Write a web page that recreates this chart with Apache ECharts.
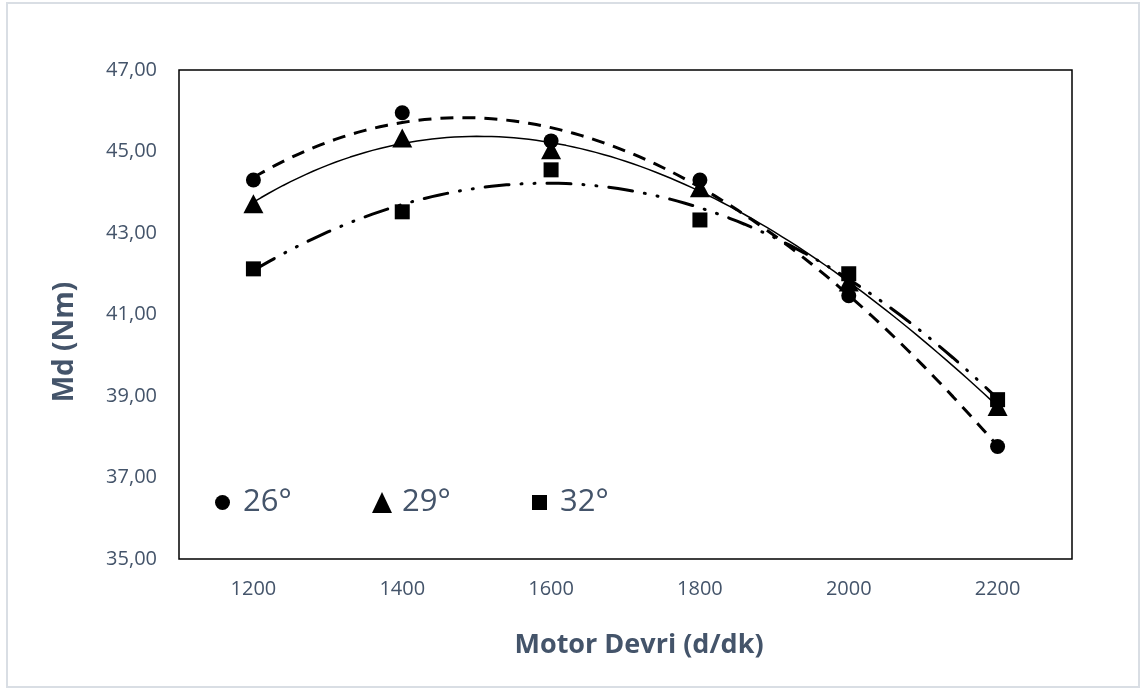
<!DOCTYPE html>
<html>
<head>
<meta charset="utf-8">
<script src="https://cdn.jsdelivr.net/npm/echarts@6/dist/echarts.min.js"></script>
<style>
  html, body { margin: 0; padding: 0; background: #fff; }
  #chart { width: 1146px; height: 690px; }
</style>
</head>
<body>
<div id="chart"></div>
<script>
// Engine speed (d/dk) and torque Md (Nm) at three ignition advance angles
const speeds = [1200, 1400, 1600, 1800, 2000, 2200];
const speedLabels = ['1200', '1400', '1600', '1800', '2000', '2200'];
const md26 = [44.30, 45.95, 45.26, 44.30, 41.46, 37.76];
const md29 = [43.72, 45.33, 45.04, 44.11, 41.80, 38.74];
const md32 = [42.12, 43.52, 44.55, 43.32, 42.00, 38.91];
const seriesNames = ['26°', '29°', '32°'];
const yTicks = [35, 37, 39, 41, 43, 45, 47];

const TEXT = '#44546A';
const FONT = '"Open Sans", "Noto Sans", sans-serif';

// Least-squares polynomial trend line of the given order
function polyFit(xs, ys, order) {
  const c = 1700, s = 100, n = order + 1;
  const t = xs.map(x => (x - c) / s);
  const A = [];
  for (let i = 0; i < n; i++) {
    A.push([]);
    for (let j = 0; j < n; j++) A[i].push(t.reduce((a, v) => a + Math.pow(v, i + j), 0));
    A[i].push(t.reduce((a, v, k) => a + Math.pow(v, i) * ys[k], 0));
  }
  for (let i = 0; i < n; i++) {
    for (let j = i + 1; j < n; j++) {
      const f = A[j][i] / A[i][i];
      for (let k = i; k <= n; k++) A[j][k] -= f * A[i][k];
    }
  }
  const b = new Array(n).fill(0);
  for (let i = n - 1; i >= 0; i--) {
    let v = A[i][n];
    for (let k = i + 1; k < n; k++) v -= A[i][k] * b[k];
    b[i] = v / A[i][i];
  }
  return x => { const u = (x - c) / s; return b.reduce((a, bk, k) => a + bk * Math.pow(u, k), 0); };
}
function trend(ys) {
  const f = polyFit(speeds, ys, 3);
  const pts = [];
  for (let x = speeds[0]; x <= speeds[speeds.length - 1]; x += 10) pts.push([x, f(x)]);
  return pts;
}

const chart = echarts.init(document.getElementById('chart'), null, { renderer: 'canvas' });

const markerStyle = { color: '#000', opacity: 1 };
function legendAt(left, name, icon, w, h, pad) {
  return {
    left: left, top: 482, itemWidth: w, itemHeight: h, itemGap: 0, selectedMode: false,
    data: [{ name: name, icon: icon, itemStyle: { color: '#000', opacity: 1 } }],
    textStyle: { color: TEXT, fontSize: 31, fontFamily: FONT, padding: [0, 0, 0, pad] }
  };
}

chart.setOption({
  animation: false,
  backgroundColor: '#fff',
  graphic: [
    { type: 'rect', shape: { x: 7, y: 3, width: 1132, height: 684 },
      style: { fill: 'none', stroke: '#D9DEE4', lineWidth: 2 }, silent: true },
    { type: 'text', position: [639, 645],
      style: { text: 'Motor Devri (d/dk)', fill: TEXT, font: 'bold 27px ' + FONT,
               textAlign: 'center', textVerticalAlign: 'middle' } },
    { type: 'text', rotation: Math.PI / 2, position: [65, 342],
      style: { text: 'Md (Nm)', fill: TEXT, font: 'bold 28px ' + FONT,
               textAlign: 'center', textVerticalAlign: 'middle' } }
  ],
  legend: [
    legendAt(210, seriesNames[0], 'circle', 15, 15, 8),
    legendAt(367, seriesNames[1], 'triangle', 20, 21, 5),
    legendAt(527, seriesNames[2], 'rect', 15, 15, 8)
  ],
  grid: { left: 179, right: 74, top: 70, bottom: 131, show: true,
          borderColor: '#000', borderWidth: 1.5, backgroundColor: 'transparent' },
  xAxis: [
    { type: 'category', data: speedLabels, boundaryGap: true,
      axisLine: { show: false }, axisTick: { show: false },
      axisLabel: { color: TEXT, fontSize: 20, fontFamily: FONT, margin: 20 },
      splitLine: { show: false } },
    { type: 'value', min: 1100, max: 2300, show: false, position: 'bottom' }
  ],
  yAxis: {
    type: 'value', min: yTicks[0], max: yTicks[yTicks.length - 1], interval: 2,
    axisLine: { show: false }, axisTick: { show: false }, splitLine: { show: false },
    axisLabel: { color: TEXT, fontSize: 20, fontFamily: FONT, margin: 22,
                 formatter: v => v.toFixed(2).replace('.', ',') }
  },
  series: [
    { name: seriesNames[0] + ' trend', type: 'line', xAxisIndex: 1, data: trend(md26),
      showSymbol: false, silent: true, z: 2,
      lineStyle: { color: '#000', width: 3, type: [13, 9] } },
    { name: seriesNames[1] + ' trend', type: 'line', xAxisIndex: 1, data: trend(md29),
      showSymbol: false, silent: true, z: 2,
      lineStyle: { color: '#000', width: 1.5 } },
    { name: seriesNames[2] + ' trend', type: 'line', xAxisIndex: 1, data: trend(md32),
      showSymbol: false, silent: true, z: 2,
      lineStyle: { color: '#000', width: 3, type: [24, 12, 1, 12, 1, 12], cap: 'round' } },
    { name: seriesNames[0], type: 'scatter', xAxisIndex: 0, data: md26,
      symbol: 'circle', symbolSize: 15, itemStyle: markerStyle, z: 3 },
    { name: seriesNames[1], type: 'scatter', xAxisIndex: 0, data: md29,
      symbol: 'triangle', symbolSize: [20, 19], itemStyle: markerStyle, z: 3 },
    { name: seriesNames[2], type: 'scatter', xAxisIndex: 0, data: md32,
      symbol: 'rect', symbolSize: 15, itemStyle: markerStyle, z: 3 }
  ]
});
</script>
</body>
</html>
